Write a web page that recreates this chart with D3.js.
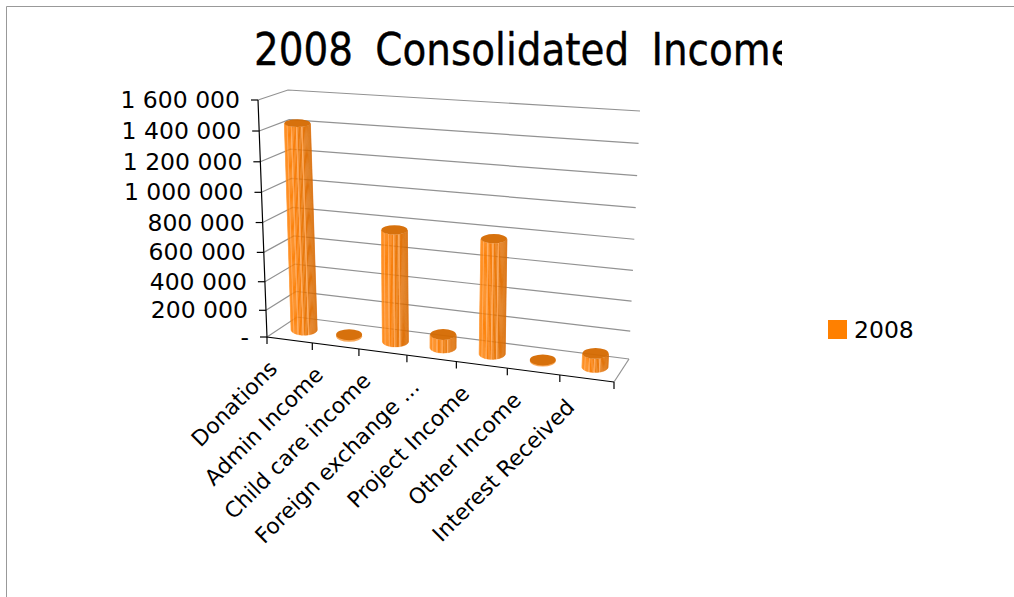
<!DOCTYPE html>
<html>
<head>
<meta charset="utf-8">
<script src="https://cdn.jsdelivr.net/npm/d3@7/dist/d3.min.js"></script>
<style>
  html, body { margin: 0; padding: 0; background: #fff; }
  svg { display: block; }
  text { font-family: "DejaVu Sans", Verdana, sans-serif; fill: #000; }
</style>
</head>
<body>
<svg id="chart" width="1014" height="597"></svg>
<script>
const titleText = "2008 Consolidated Income";
const seriesName = "2008";
const categories = ["Donations", "Admin Income", "Child care income", "Foreign exchange ...",
  "Project Income", "Other Income", "Interest Received"];
const values = [1425000, 8000, 775000, 100000, 780000, 4000, 100000];
const tickValues = [0, 200000, 400000, 600000, 800000, 1000000, 1200000, 1400000, 1600000];
const tickLabels = ["-", "200 000", "400 000", "600 000", "800 000", "1 000 000", "1 200 000", "1 400 000", "1 600 000"];

const svg = d3.select("#chart");

// Corners of the chart box as seen in perspective: [left/right][front/back][floor/top]
const box = {
  lff: [267, 337], lft: [258, 100],
  lbf: [297, 317], lbt: [288, 90],
  rff: [614, 382], rft: [626, 124],
  rbf: [629, 359], rbt: [640, 111]
};
const mix = (a, b, t) => [a[0] + (b[0] - a[0]) * t, a[1] + (b[1] - a[1]) * t];
function project(u, d, v) {
  const floor = mix(mix(box.lff, box.rff, u), mix(box.lbf, box.rbf, u), d);
  const top = mix(mix(box.lft, box.rft, u), mix(box.lbt, box.rbt, u), d);
  return mix(floor, top, v);
}

// Heights bunch up slightly towards the floor; category slots widen towards the right
const yScale = d3.scalePow().exponent(1.05).domain([0, 1600000]).range([0, 1]);
const slotScale = d3.scaleLinear().domain([0, categories.length]).range([0, 1]);
const foreshorten = 1.11;
const slotEdge = i => {
  const t = slotScale(i);
  return t / (t + (1 - t) * foreshorten);
};
const slotCentre = i => (slotEdge(i) + slotEdge(i + 1)) / 2;

// Outer frame of the chart area
svg.append("path").attr("d", "M6.5,597V6.5H1014").attr("fill", "none").attr("stroke", "#999");

// Gridlines across the left side and back wall
const path = d3.line();
const grid = svg.append("g").attr("fill", "none").attr("stroke", "#929292").attr("stroke-width", 1.2);
tickValues.forEach(t => {
  const v = yScale(t);
  grid.append("path").attr("d", path([project(0, 0, v), project(0, 1, v), project(1, 1, v)]));
});
grid.append("path").attr("d", path([project(1, 1, 0), project(1, 0, 0)]));

// Cylinders: narrow vertical facets, lit from the left, with pale highlight lines
const shade = d3.scaleLinear()
  .domain([-1, -0.3, 0.25, 1])
  .range(["#ff8000", "#fb7c00", "#e87200", "#d96b00"]);
const radiusX = 13;
const facets = 30;
const bars = svg.append("g").attr("opacity", 0.95);
categories.forEach((name, i) => {
  const uc = slotCentre(i);
  const base = project(uc, 0.5, 0);
  const top = project(uc, 0.5, yScale(values[i]));
  const ryBase = 5.5, ryTop = 5.5 - 1.8 * yScale(values[i]);
  const g = bars.append("g");
  if (values[i] > 20000) {
    d3.range(facets).forEach(k => {
      const a0 = Math.PI * (1 - k / facets), a1 = Math.PI * (1 - (k + 1) / facets);
      const pt = (c, ry, a) => [c[0] + radiusX * Math.cos(a), c[1] + ry * Math.sin(a)];
      const poly = [pt(base, ryBase, a0), pt(base, ryBase, a1), pt(top, ryTop, a1), pt(top, ryTop, a0)];
      const mid = Math.cos((a0 + a1) / 2);
      const lit = k % 4 === 2 && mid < 0.55;
      const colour = lit ? "#ffa552" : shade(mid);
      g.append("path").attr("d", path(poly) + "Z")
        .attr("fill", colour).attr("stroke", colour).attr("stroke-width", 0.25);
    });
  } else {
    g.append("ellipse").attr("cx", base[0]).attr("cy", base[1] + 0.7).attr("rx", radiusX).attr("ry", ryBase)
      .attr("fill", "#f9a450");
  }
  g.append("ellipse").attr("cx", top[0]).attr("cy", top[1]).attr("rx", radiusX).attr("ry", ryTop)
    .attr("fill", "#d56a00");
});

// Value axis on the front-left edge
const axes = svg.append("g").attr("fill", "none").attr("stroke", "#000").attr("stroke-width", 1.2);
axes.append("path").attr("d", path([project(0, 0, 1), project(0, 0, 0), project(1, 0, 0)]));
tickValues.forEach((t, i) => {
  const p = project(0, 0, yScale(t));
  axes.append("path").attr("d", path([p, [p[0] - 7, p[1]]]));
  svg.append("text").attr("x", p[0] - 18).attr("y", p[1] + 8)
    .attr("text-anchor", "end").attr("font-size", 23.5).text(tickLabels[i]);
});

// Category axis on the front floor edge
d3.range(categories.length + 1).forEach(i => {
  const p = project(slotEdge(i), 0, 0);
  axes.append("path").attr("d", path([p, [p[0], p[1] + 7]]));
});
categories.forEach((name, i) => {
  const p = project(slotCentre(i), 0, 0);
  svg.append("text")
    .attr("transform", `translate(${p[0] - 11},${p[1] + 30}) rotate(-45)`)
    .attr("text-anchor", "end").attr("font-size", 21.8).text(name);
});

// Title, cut off at the right edge of its box
svg.append("clipPath").attr("id", "title-box").append("rect")
  .attr("x", 200).attr("y", 10).attr("width", 582).attr("height", 70);
svg.append("g").attr("clip-path", "url(#title-box)")
  .append("text")
  .attr("transform", "translate(254,65) scale(0.865,1)")
  .attr("font-size", 45)
  .style("word-spacing", "11.5px")
  .style("stroke", "#000").style("stroke-width", 0.4)
  .text(titleText);

// Legend
svg.append("rect").attr("x", 828).attr("y", 320).attr("width", 19).attr("height", 19).attr("fill", "#ff8000");
svg.append("text").attr("x", 854).attr("y", 338).attr("font-size", 23.5).text(seriesName);
</script>
</body>
</html>
